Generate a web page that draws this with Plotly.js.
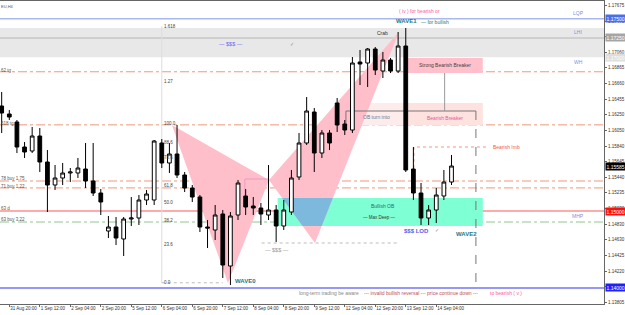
<!DOCTYPE html>
<html><head><meta charset="utf-8">
<script src="https://cdn.plot.ly/plotly-3.0.1.min.js"></script>
<style>html,body{margin:0;padding:0;background:#fff;}#chart{width:625px;height:315px;}</style>
</head><body><div id="chart"></div>
<script>
// ---- bar times (H4) ----
const times = ["31 Aug 16:00","31 Aug 20:00","1 Sep 00:00","1 Sep 04:00","1 Sep 08:00","1 Sep 12:00","1 Sep 16:00","1 Sep 20:00",
"2 Sep 00:00","2 Sep 04:00","2 Sep 08:00","2 Sep 12:00","2 Sep 16:00","2 Sep 20:00","5 Sep 00:00","5 Sep 04:00",
"5 Sep 08:00","5 Sep 12:00","5 Sep 16:00","5 Sep 20:00","6 Sep 00:00","6 Sep 04:00","6 Sep 08:00","6 Sep 12:00",
"6 Sep 16:00","6 Sep 20:00","7 Sep 00:00","7 Sep 04:00","7 Sep 08:00","7 Sep 12:00","7 Sep 16:00","7 Sep 20:00",
"8 Sep 00:00","8 Sep 04:00","8 Sep 08:00","8 Sep 12:00","8 Sep 16:00","8 Sep 20:00","9 Sep 00:00","9 Sep 04:00",
"9 Sep 08:00","9 Sep 12:00","9 Sep 16:00","9 Sep 20:00","12 Sep 00:00","12 Sep 04:00","12 Sep 08:00","12 Sep 12:00",
"12 Sep 16:00","12 Sep 20:00","13 Sep 00:00","13 Sep 04:00","13 Sep 08:00","13 Sep 12:00","13 Sep 16:00","13 Sep 20:00",
"14 Sep 00:00","14 Sep 04:00","14 Sep 08:00","14 Sep 12:00"];

// ---- OHLC ----
const openP  = [1.16365,1.16261,1.16157,1.15832,1.15780,1.15975,1.15637,1.15338,1.15429,1.15494,1.15494,1.15546,1.15390,1.15234,1.14740,1.14792,
1.14636,1.14896,1.14909,1.15143,1.15143,1.15884,1.15624,1.15741,1.15468,1.15299,1.15182,1.14792,1.14753,1.14961,1.14285,1.14948,
1.15195,1.15065,1.15039,1.14948,1.15013,1.14805,1.14987,1.15442,1.15884,1.16287,1.15754,1.16014,1.16404,1.16131,1.16053,1.16937,
1.16924,1.17106,1.16820,1.16963,1.16820,1.17145,1.15546,1.15234,1.14909,1.15013,1.15195,1.15377];
const highP  = [1.16547,1.16313,1.16183,1.15897,1.16092,1.16079,1.15793,1.15598,1.15624,1.15559,1.15689,1.15884,1.15884,1.15286,1.14935,1.14922,
1.14922,1.15182,1.15208,1.15273,1.15923,1.15936,1.15884,1.16118,1.15507,1.15338,1.15208,1.14883,1.15078,1.15013,1.14987,1.15403,
1.15286,1.15182,1.15104,1.15598,1.15078,1.15143,1.15533,1.16014,1.16482,1.16339,1.16053,1.16053,1.16469,1.16183,1.17002,1.17093,
1.17119,1.17132,1.17067,1.16989,1.17327,1.17379,1.15832,1.15364,1.15078,1.15299,1.15533,1.15728];
const lowP   = [1.16014,1.16183,1.15754,1.15689,1.15754,1.15507,1.14987,1.15273,1.15338,1.15377,1.15429,1.15299,1.15195,1.14948,1.14649,1.14558,
1.14415,1.14805,1.14818,1.15078,1.15078,1.15559,1.15494,1.15429,1.15247,1.15117,1.14727,1.14519,1.14623,1.14129,1.14038,1.14883,
1.14948,1.14948,1.14818,1.14883,1.14597,1.14753,1.14948,1.15403,1.15858,1.15507,1.15689,1.15793,1.16027,1.15988,1.16014,1.16638,
1.16612,1.16768,1.16729,1.16794,1.16794,1.15507,1.15143,1.14818,1.14818,1.14844,1.15143,1.15338];
const closeP = [1.16274,1.16222,1.15832,1.15767,1.15975,1.15637,1.15338,1.15429,1.15494,1.15507,1.15559,1.15390,1.15234,1.15117,1.14792,1.14649,
1.14896,1.14909,1.15143,1.15221,1.15910,1.15624,1.15741,1.15468,1.15299,1.15182,1.14792,1.14779,1.14948,1.14298,1.14935,1.15364,
1.15052,1.15039,1.14961,1.15013,1.14805,1.15013,1.15429,1.15884,1.16300,1.15754,1.16014,1.15884,1.16118,1.16053,1.16924,1.16911,
1.17106,1.16833,1.16963,1.16820,1.17145,1.15533,1.15234,1.14909,1.15013,1.15208,1.15377,1.15585];

// ---- axis ticks ----
const timeTickBars = [1,5,9,13,17,21,25,29,33,37,41,45,49,53,57];
const priceTicks = [1.17675,1.17470,1.17265,1.17060,1.16865,1.16660,1.16455,1.16250,1.16050,1.15840,1.15645,1.15440,1.15235,1.15030,1.14830,1.14630,1.14425,1.14220,1.14015,1.13805];

// ---- horizontal levels ----
const bandTop = 1.1738, bandBottom = 1.1700;
const lqp = 1.1750, lhi = 1.1725, redLevel = 1.1500, blueLevel = 1.1400;
const salmonLevels = [1.1681, 1.1612, 1.1539, 1.1530];
const greenLevel = 1.14857;
const leftLabels = [["62 tg",1.1683],["618 tg",1.1614],["78 buy 1.75",1.1542],["71 buy 1.22",1.1532],["63 d",1.1503],["63 buy 3.22",1.1489]];
const sideLabels = [["LQP",1.17574],["LHI",1.17327],["WH",1.16937],["MHP",1.14935]];

// ---- fibonacci ----
const fibBar = 21.0;
const fibLabels = ["1.618","1.27","100.0","88.6","78.6","61.8","50.0","38.2","23.6","0.0"];
const fibPrices = [1.17405,1.1669,1.16144,1.15897,1.15702,1.15338,1.15117,1.14883,1.14571,1.14077];

// ---- harmonic pattern points X A B C D ----
const patBars   = [22.33, 29.68, 35.06, 41.09, 52.1];
const patPrices = [1.16118, 1.14064, 1.15403, 1.14584, 1.17327];

// ---- zones [x0,x1,yLow,yHigh] ----
const zoneStrong  = [53.3, 63.1, 1.16794, 1.16989];
const zoneBearish = [52.9, 63.1, 1.16118, 1.16404];
const zoneOB      = [45.15, 52.9, 1.16118, 1.16404];
const zoneBullOB  = [36.2, 63.1, 1.14805, 1.15169];

const idx = times.map((t,i)=>i);
const FONT = "Liberation Sans, Arial, sans-serif";

const shapes = [];
function hline(y, color, width, dash, x0, x1){
  shapes.push({type:'line', layer:'below', xref: x0===undefined?'paper':'x', x0: x0===undefined?0:x0, x1: x1===undefined?1:x1,
    yref:'y', y0:y, y1:y, line:{color:color, width:width, dash:dash||'solid'}});
}
function rect(z, color){
  shapes.push({type:'rect', layer:'below', xref:'x', yref:'y', x0:z[0], x1:z[1], y0:z[2], y1:z[3], fillcolor:color, line:{width:0}});
}
function poly(pts, color){
  const d = 'M' + pts.map(p=>p[0]+','+p[1]).join('L') + 'Z';
  shapes.push({type:'path', layer:'below', xref:'x', yref:'y', path:d, fillcolor:color, line:{width:0}});
}
function pathLine(pts, color, width, dash){
  const d = 'M' + pts.map(p=>p[0]+','+p[1]).join('L');
  shapes.push({type:'path', layer:'below', xref:'x', yref:'y', path:d, line:{color:color, width:width, dash:dash||'solid'}});
}
function clip(pts, k, v, keepGreater){
  const out=[];
  for(let i=0;i<pts.length;i++){
    const a=pts[i], b=pts[(i+1)%pts.length];
    const ina = keepGreater ? a[k]>=v : a[k]<=v;
    const inb = keepGreater ? b[k]>=v : b[k]<=v;
    if(ina) out.push(a);
    if(ina!==inb){
      const t=(v-a[k])/(b[k]-a[k]);
      out.push([a[0]+t*(b[0]-a[0]), a[1]+t*(b[1]-a[1])]);
    }
  }
  return out;
}

shapes.push({type:'rect', layer:'below', xref:'paper', x0:0, x1:1, yref:'y', y0:bandBottom, y1:bandTop, fillcolor:'#e8e8e8', line:{width:0}});
hline(lhi, '#cfcfcf', 2);
hline(lqp, '#aab8ee', 1.5);
rect(zoneOB, '#fdeceb');
rect(zoneBearish, '#fde2df');
rect(zoneStrong, '#ffc0cb');
rect(zoneBullOB, '#7fffd4');
const P = patBars.map((b,i)=>[b, patPrices[i]]);
poly([P[0],P[1],P[2]], '#ffbfca');
poly([P[2],P[3],P[4]], '#ffbfca');
let ov = [P[2],P[3],P[4]];
ov = clip(ov,1,zoneBullOB[2],true); ov = clip(ov,1,zoneBullOB[3],false);
ov = clip(ov,0,zoneBullOB[0],true); ov = clip(ov,0,zoneBullOB[1],false);
if(ov.length>2) poly(ov, '#7cb9dd');
salmonLevels.forEach(l=>hline(l, '#f2977a', 1, 'dashdot'));
hline(redLevel, '#ffabab', 2);
hline(greenLevel, '#90c890', 1, 'dashdot');
hline(blueLevel, '#7474f4', 1.5);
pathLine([[fibBar, fibPrices[0]],[fibBar, fibPrices[9]-0.0001]], '#dddddd', 1);
hline(fibPrices[9]-0.0001, '#bbbbbb', 1, 'dot', fibBar, 29);
hline(1.14584, '#bbbbbb', 1, 'dot', 34.1, 52);
pathLine([[45.15,1.16053],[45.15,1.16300],[62.2,1.16300]], '#777777', 1);
pathLine([[62.2,1.16300],[62.2,1.14038]], '#777777', 1, 'dash');
pathLine([[58.1,1.16794],[58.1,1.16300]], '#999999', 1);
pathLine([[54.07,1.15559],[54.07,1.15832],[63.8,1.15832]], '#f2977a', 1, 'dot');
pathLine([[31.9,1.15180],[31.9,1.15416],[35.06,1.15416]], '#e890c0', 0.8);

const candle = {type:'candlestick', x:idx, open:openP, high:highP, low:lowP, close:closeP,
  increasing:{line:{color:'#000', width:1}, fillcolor:'#ffffff'},
  decreasing:{line:{color:'#000', width:1}, fillcolor:'#000000'},
  whiskerwidth:0, hoverinfo:'skip', showlegend:false};

const ann = [];
function txt(x, y, text, opt){
  opt = opt||{};
  ann.push({x:x, y:y, xref:opt.xref||'x', yref:'y', text:text, showarrow:false,
    xanchor:opt.xa||'center', yanchor:opt.ya||'middle', xshift:opt.xs||0,
    font:{family:FONT, size:opt.size||5, color:opt.color||'#333'},
    bgcolor:opt.bg, borderpad:opt.bp===undefined?0:opt.bp});
}
[[lqp,'#4a6ee8'],[lhi,'#a5a5a5'],[bandBottom,'#dedede'],[closeP[closeP.length-1],'#000000'],[redLevel,'#ff1010'],[blueLevel,'#2020ff']]
  .forEach(p=>txt(1, p[0], p[0].toFixed(5), {xref:'paper', xa:'left', xs:1, color:'#ffffff', bg:p[1], bp:0.5}));
leftLabels.forEach(l=>txt(0, l[1], l[0], {xref:'paper', xa:'left', color:'#555', size:4.5}));
sideLabels.forEach(l=>txt(75.6, l[1], l[0], {color:'#8090dd', size:5}));
fibLabels.forEach((l,i)=>txt(fibBar+0.1, fibPrices[i], l, {xa:'left', color:'#444', size:4.5}));
txt(0, 1.17655, 'EU,H4', {xref:'paper', xa:'left', color:'#555', size:4});
txt(30.1, 1.17171, '— $$$ —', {color:'#6a6af0', size:5.5});
txt(38.1, 1.17171, '✓', {color:'#888', size:5});
txt(50.0, 1.17314, 'Crab', {color:'#333', size:5});
txt(52.0, 1.1760, '( iv ) for bearish or', {xa:'left', color:'#ff5aa0', size:5});
txt(51.6, 1.1747, '<b>WAVE1</b>', {xa:'left', color:'#1a7a8a', size:6});
txt(54.9, 1.1746, '— for bullish', {xa:'left', color:'#1a7a8a', size:5});
txt(58.1, 1.16898, 'Strong Bearish Breaker', {color:'#444', size:5});
txt(58.1, 1.16209, 'Bearish Breaker', {color:'#e8559a', size:5});
txt(49.1, 1.16222, 'OB turn into', {color:'#6a7d90', size:5});
txt(64.3, 1.15832, 'Bearish Imb', {xa:'left', color:'#f06040', size:5});
txt(50.0, 1.15065, 'Bullish OB', {color:'#2f6868', size:5});
txt(49.6, 1.14922, '— Max Deep —', {color:'#333', size:4.5});
txt(52.6, 1.1474, '<b>$$$ LOD</b>', {xa:'left', color:'#5a5af0', size:6});
txt(57.1, 1.1475, '✓', {color:'#888', size:5});
txt(61.0, 1.14701, '<b>WAVE2</b>', {color:'#1a7a8a', size:6});
txt(36.1, 1.14493, '— $$$ —', {color:'#999', size:5.5});
txt(32.0, 1.1409, '<b>WAVE0</b>', {color:'#1a7a8a', size:6});
txt(38.9, 1.13934, 'long-term trading be aware', {xa:'left', color:'#888', size:5});
txt(47.4, 1.13934, '--- invalid bullish reversal --- price continue down ---', {xa:'left', color:'#c0504d', size:5});
txt(63.9, 1.13934, 'to bearish ( v )', {xa:'left', color:'#ff5aa0', size:5});

const layout = {
  width:625, height:315, margin:{l:0, r:21, t:1, b:11},
  paper_bgcolor:'#ffffff', plot_bgcolor:'#ffffff', showlegend:false,
  font:{family:FONT, size:5, color:'#333'},
  xaxis:{range:[-0.22, 79.0], tickvals:timeTickBars, ticktext:timeTickBars.map(i=>times[i]),
    showgrid:false, zeroline:false, showline:true, linecolor:'#666', linewidth:1, mirror:true,
    ticks:'outside', ticklen:2, tickcolor:'#666', tickfont:{size:4.5, color:'#333'}, tickangle:0,
    ticklabelposition:'outside right', rangeslider:{visible:false}, fixedrange:true, automargin:false},
  yaxis:{side:'right', range:[1.13791, 1.1773], tickvals:priceTicks, ticktext:priceTicks.map(v=>v.toFixed(5)),
    showgrid:false, zeroline:false, showline:true, linecolor:'#666', linewidth:1, automargin:false,
    ticks:'outside', ticklen:2, tickcolor:'#666', tickfont:{size:4.5, color:'#333'}, fixedrange:true},
  shapes:shapes, annotations:ann
};
Plotly.newPlot('chart', [candle], layout, {staticPlot:true, displayModeBar:false});
</script>
</body></html>
